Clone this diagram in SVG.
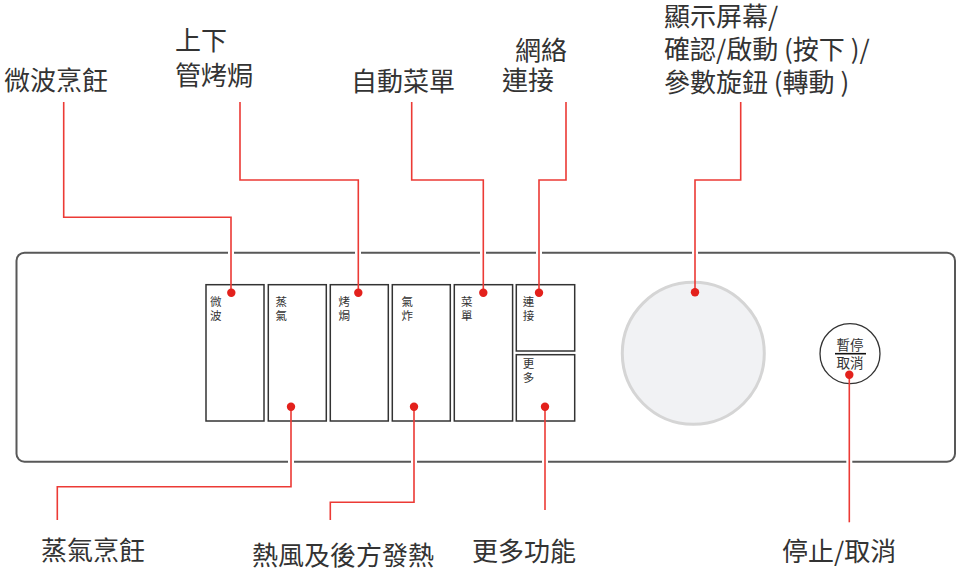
<svg xmlns="http://www.w3.org/2000/svg" width="962" height="570" viewBox="0 0 962 570">
<style>
.lbl{font-family:"Noto Sans CJK TC","Noto Sans",sans-serif;font-size:26px;fill:#333;}
.btxt{font-family:"Noto Sans CJK TC","Noto Sans",sans-serif;font-size:11.5px;fill:#333;}
.ptxt{font-family:"Noto Sans CJK TC","Noto Sans",sans-serif;font-size:13.5px;fill:#333;}
.btn{fill:#fff;stroke:#333;stroke-width:1.5;}
.lead{fill:none;stroke:#ec3a35;stroke-width:1.6;}
.gap{fill:#fff;}
.dot{fill:#e3211c;}
</style>
<rect width="962" height="570" fill="#fff"/>
<g id="panel">
<rect x="16.5" y="252.7" width="938.5" height="209" rx="8" ry="8" fill="#fff" stroke="#585858" stroke-width="2"/>
</g>
<g id="btn-microwave"><rect class="btn" x="206" y="284.7" width="58" height="136.3"/><text class="btxt" x="210" y="306">微</text><text class="btxt" x="210" y="320">波</text></g>
<g id="btn-steam"><rect class="btn" x="268.3" y="284.7" width="58" height="136.3"/><text class="btxt" x="275.5" y="306">蒸</text><text class="btxt" x="275.5" y="320">氣</text></g>
<g id="btn-grill"><rect class="btn" x="330.3" y="284.7" width="58" height="136.3"/><text class="btxt" x="338.5" y="306">烤</text><text class="btxt" x="338.5" y="320">焗</text></g>
<g id="btn-airfry"><rect class="btn" x="392.3" y="284.7" width="58" height="136.3"/><text class="btxt" x="401.5" y="306">氣</text><text class="btxt" x="401.5" y="320">炸</text></g>
<g id="btn-menu"><rect class="btn" x="454.3" y="284.7" width="58.3" height="136.3"/><text class="btxt" x="461" y="306">菜</text><text class="btxt" x="461" y="320">單</text></g>
<g id="btn-connect"><rect class="btn" x="516.3" y="284.7" width="58.4" height="66.3"/><text class="btxt" x="522.8" y="306">連</text><text class="btxt" x="522.8" y="320">接</text></g>
<g id="btn-more"><rect class="btn" x="516.3" y="354.7" width="58.4" height="66.3"/><text class="btxt" x="522.8" y="367.5">更</text><text class="btxt" x="522.8" y="381.5">多</text></g>
<g id="knob"><circle cx="693.3" cy="353.3" r="71" fill="#f1f2f4" stroke="#d5d5d5" stroke-width="3"/></g>
<g id="btn-pause"><circle cx="850" cy="353.7" r="30" fill="#fff" stroke="#333" stroke-width="1.3"/><text class="ptxt" x="850" y="350" text-anchor="middle">暫停</text><line x1="835" y1="353.7" x2="866" y2="353.7" stroke="#111" stroke-width="1.6"/><text class="ptxt" x="850" y="367.5" text-anchor="middle">取消</text></g>
<g id="connectors">
<rect class="gap" x="228" y="250" width="6" height="6"/>
<rect class="gap" x="355" y="250" width="6" height="6"/>
<rect class="gap" x="480" y="250" width="6" height="6"/>
<rect class="gap" x="536" y="250" width="6" height="6"/>
<rect class="gap" x="692" y="250" width="6" height="6"/>
<rect class="gap" x="288" y="459" width="6" height="6"/>
<rect class="gap" x="411" y="459" width="6" height="6"/>
<rect class="gap" x="542" y="459" width="6" height="6"/>
<rect class="gap" x="846.3" y="459" width="6" height="6"/>
<path class="lead" d="M63.7,102 V217.3 H231 V292.7"/>
<path class="lead" d="M240,102 V180 H358.3 V292.7"/>
<path class="lead" d="M411.7,102 V180 H483.3 V292.7"/>
<path class="lead" d="M566,102 V180 H539 V292.7"/>
<path class="lead" d="M740.7,102 V180 H695 V292.3"/>
<path class="lead" d="M291,406.7 V486.7 H57.3 V520"/>
<path class="lead" d="M414,406.7 V502.3 H330.3 V520"/>
<path class="lead" d="M545,406.7 V510"/>
<path class="lead" d="M849.3,374.7 V522.3"/>
<circle class="dot" cx="231.3" cy="292.7" r="4.2"/>
<circle class="dot" cx="358.3" cy="292.7" r="4.2"/>
<circle class="dot" cx="483.3" cy="292.7" r="4.2"/>
<circle class="dot" cx="539" cy="292.7" r="4.2"/>
<circle class="dot" cx="695" cy="292.3" r="4.2"/>
<circle class="dot" cx="291" cy="406.7" r="4.2"/>
<circle class="dot" cx="414" cy="406.7" r="4.2"/>
<circle class="dot" cx="545" cy="406.7" r="4.2"/>
<circle class="dot" cx="849.3" cy="374.7" r="4.2"/>
</g>
<g id="labels">
<text class="lbl" x="4" y="90">微波烹飪</text>
<text class="lbl" x="175" y="50">上下</text>
<text class="lbl" x="175" y="85">管烤焗</text>
<text class="lbl" x="351" y="91">自動菜單</text>
<text class="lbl" x="515" y="60">網絡</text>
<text class="lbl" x="502" y="90">連接</text>
<text class="lbl" x="664" y="26">顯示屏幕/</text>
<text class="lbl" x="664" y="59">確認/啟動 (按下 )/</text>
<text class="lbl" x="664" y="92">參數旋鈕 (轉動 )</text>
<text class="lbl" x="41" y="560">蒸氣烹飪</text>
<text class="lbl" x="252" y="565">熱風及後方發熱</text>
<text class="lbl" x="472" y="561">更多功能</text>
<text class="lbl" x="782" y="561">停止/取消</text>
</g>
</svg>
